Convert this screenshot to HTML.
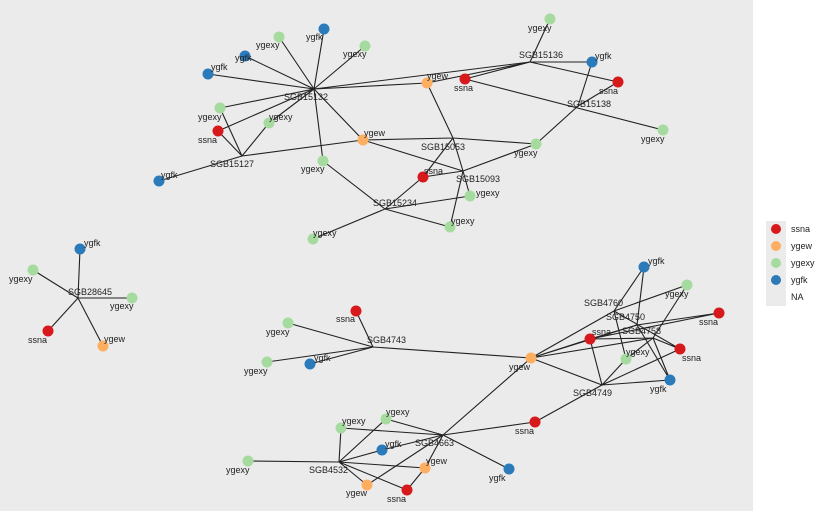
<!DOCTYPE html>
<html><head><meta charset="utf-8"><style>
body{margin:0;background:#fff}
svg{display:block;font-family:"Liberation Sans",sans-serif}
text{font-size:9px;fill:#222}
</style></head><body>
<svg width="825" height="511" viewBox="0 0 825 511">
<rect x="0" y="0" width="753" height="511" fill="#ebebeb"/>
<g stroke="#222" stroke-width="1.1" fill="none">
<!-- hub SGB15132 -->
<path d="M314 89L324 29M314 89L279 37M314 89L365 46M314 89L245 56M314 89L208 74M314 89L220 108M314 89L218 131M314 89L269 123M314 89L363 140M314 89L323 161M314 89L427 83M314 89L530 62"/>
<!-- SGB15127 -->
<path d="M242 156L159 181M242 156L220 108M242 156L218 131M242 156L269 123M242 156L363 140"/>
<path d="M363 140L453 138L536 144M363 140L463 171M427 83L453 138M453 138L423 177M453 138L463 171M463 171L470 196M463 171L450 227M463 171L423 177M463 171L536 144"/>
<path d="M385 209L323 161M385 209L313 239M385 209L423 177M385 209L470 196M385 209L450 227"/>
<path d="M530 62L550 19M530 62L592 62M530 62L618 82M530 62L465 79M530 62L427 83M465 79L663 130M578 106L592 62M578 106L618 82M578 106L536 144"/>
<!-- left -->
<path d="M78 298L80 249M78 298L33 270M78 298L132 298M78 298L48 331M78 298L103 346"/>
<!-- bottom -->
<path d="M373 347L356 311M373 347L288 323M373 347L267 362M373 347L310 364M373 347L531 358"/>
<path d="M531 358L443 435M531 358L614 311M531 358L637 325M531 358L590 339M531 358L653 338M531 358L602 385"/>
<path d="M602 385L590 339M602 385L626 359M602 385L670 380M602 385L680 349M602 385L535 422"/>
<path d="M614 311L644 267M614 311L687 285M614 311L626 359M614 311L680 349M637 325L644 267M637 325L719 313M637 325L590 339M637 325L670 380M653 338L590 339M653 338L680 349M653 338L687 285M653 338L626 359M653 338L670 380M590 339L719 313"/>
<path d="M443 435L535 422M443 435L341 428M443 435L386 419M443 435L509 469M443 435L425 468M443 435L367 485M443 435L382 450"/>
<path d="M339 462L248 461M339 462L341 428M339 462L386 419M339 462L425 468M339 462L367 485M339 462L407 490M339 462L382 450M407 490L425 468"/>
</g>
<g>
<circle cx="324" cy="29" r="5.5" fill="#2b7bba"/><circle cx="279" cy="37" r="5.5" fill="#a6dba0"/><circle cx="365" cy="46" r="5.5" fill="#a6dba0"/><circle cx="245" cy="56" r="5.5" fill="#2b7bba"/><circle cx="208" cy="74" r="5.5" fill="#2b7bba"/><circle cx="220" cy="108" r="5.5" fill="#a6dba0"/><circle cx="218" cy="131" r="5.5" fill="#d7191c"/><circle cx="269" cy="123" r="5.5" fill="#a6dba0"/><circle cx="159" cy="181" r="5.5" fill="#2b7bba"/><circle cx="363" cy="140" r="5.5" fill="#fdae61"/><circle cx="323" cy="161" r="5.5" fill="#a6dba0"/><circle cx="427" cy="83" r="5.5" fill="#fdae61"/><circle cx="465" cy="79" r="5.5" fill="#d7191c"/><circle cx="423" cy="177" r="5.5" fill="#d7191c"/><circle cx="470" cy="196" r="5.5" fill="#a6dba0"/><circle cx="450" cy="227" r="5.5" fill="#a6dba0"/><circle cx="313" cy="239" r="5.5" fill="#a6dba0"/><circle cx="550" cy="19" r="5.5" fill="#a6dba0"/><circle cx="592" cy="62" r="5.5" fill="#2b7bba"/><circle cx="618" cy="82" r="5.5" fill="#d7191c"/><circle cx="663" cy="130" r="5.5" fill="#a6dba0"/><circle cx="536" cy="144" r="5.5" fill="#a6dba0"/>
<circle cx="80" cy="249" r="5.5" fill="#2b7bba"/><circle cx="33" cy="270" r="5.5" fill="#a6dba0"/><circle cx="132" cy="298" r="5.5" fill="#a6dba0"/><circle cx="48" cy="331" r="5.5" fill="#d7191c"/><circle cx="103" cy="346" r="5.5" fill="#fdae61"/>
<circle cx="356" cy="311" r="5.5" fill="#d7191c"/><circle cx="288" cy="323" r="5.5" fill="#a6dba0"/><circle cx="267" cy="362" r="5.5" fill="#a6dba0"/><circle cx="310" cy="364" r="5.5" fill="#2b7bba"/><circle cx="531" cy="358" r="5.5" fill="#fdae61"/><circle cx="644" cy="267" r="5.5" fill="#2b7bba"/><circle cx="687" cy="285" r="5.5" fill="#a6dba0"/><circle cx="719" cy="313" r="5.5" fill="#d7191c"/><circle cx="590" cy="339" r="5.5" fill="#d7191c"/><circle cx="680" cy="349" r="5.5" fill="#d7191c"/><circle cx="626" cy="359" r="5.5" fill="#a6dba0"/><circle cx="670" cy="380" r="5.5" fill="#2b7bba"/><circle cx="535" cy="422" r="5.5" fill="#d7191c"/><circle cx="386" cy="419" r="5.5" fill="#a6dba0"/><circle cx="341" cy="428" r="5.5" fill="#a6dba0"/><circle cx="382" cy="450" r="5.5" fill="#2b7bba"/><circle cx="248" cy="461" r="5.5" fill="#a6dba0"/><circle cx="425" cy="468" r="5.5" fill="#fdae61"/><circle cx="367" cy="485" r="5.5" fill="#fdae61"/><circle cx="407" cy="490" r="5.5" fill="#d7191c"/><circle cx="509" cy="469" r="5.5" fill="#2b7bba"/>
</g>
<g>
<text x="284" y="100">SGB15132</text><text x="210" y="167">SGB15127</text><text x="421" y="150">SGB15053</text><text x="456" y="182">SGB15093</text><text x="373" y="206">SGB15234</text><text x="519" y="58">SGB15136</text><text x="567" y="107">SGB15138</text>
<text x="306" y="40">ygfk</text><text x="256" y="48">ygexy</text><text x="343" y="57">ygexy</text><text x="235" y="61">ygfk</text><text x="211" y="70">ygfk</text><text x="198" y="120">ygexy</text><text x="198" y="143">ssna</text><text x="269" y="120">ygexy</text><text x="161" y="178">ygfk</text><text x="364" y="136">ygew</text><text x="301" y="172">ygexy</text><text x="427" y="79">ygew</text><text x="454" y="91">ssna</text><text x="424" y="174">ssna</text><text x="476" y="196">ygexy</text><text x="451" y="224">ygexy</text><text x="313" y="236">ygexy</text><text x="528" y="31">ygexy</text><text x="595" y="59">ygfk</text><text x="599" y="94">ssna</text><text x="641" y="142">ygexy</text><text x="514" y="156">ygexy</text>
<text x="68" y="295">SGB28645</text><text x="84" y="246">ygfk</text><text x="9" y="282">ygexy</text><text x="110" y="309">ygexy</text><text x="28" y="343">ssna</text><text x="104" y="342">ygew</text>
<text x="367" y="343">SGB4743</text><text x="336" y="322">ssna</text><text x="266" y="335">ygexy</text><text x="244" y="374">ygexy</text><text x="314" y="361">ygfk</text><text x="509" y="370">ygew</text>
<text x="584" y="306">SGB4760</text><text x="606" y="320">SGB4750</text><text x="622" y="334">SGB4758</text><text x="648" y="264">ygfk</text><text x="665" y="297">ygexy</text><text x="699" y="325">ssna</text><text x="592" y="335">ssna</text><text x="682" y="361">ssna</text><text x="626" y="355">ygexy</text><text x="650" y="392">ygfk</text><text x="573" y="396">SGB4749</text>
<text x="515" y="434">ssna</text><text x="415" y="446">SGB4663</text><text x="386" y="415">ygexy</text><text x="342" y="424">ygexy</text><text x="385" y="447">ygfk</text><text x="226" y="473">ygexy</text><text x="309" y="473">SGB4532</text><text x="426" y="464">ygew</text><text x="346" y="496">ygew</text><text x="387" y="502">ssna</text><text x="489" y="481">ygfk</text>
</g>
<rect x="766" y="221" width="20" height="85" fill="#ebebeb"/>
<circle cx="776" cy="229" r="5" fill="#d7191c"/><circle cx="776" cy="246" r="5" fill="#fdae61"/><circle cx="776" cy="263" r="5" fill="#a6dba0"/><circle cx="776" cy="280" r="5" fill="#2b7bba"/>
<text x="791" y="232">ssna</text><text x="791" y="249">ygew</text><text x="791" y="266">ygexy</text><text x="791" y="283">ygfk</text><text x="791" y="300">NA</text>
</svg>
</body></html>
